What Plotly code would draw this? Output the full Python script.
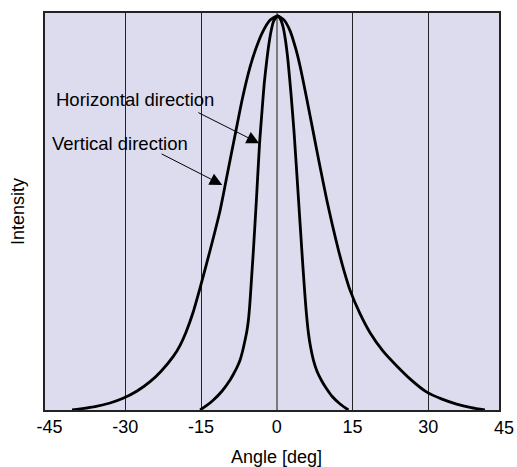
import plotly.graph_objects as go

# Data (angle in deg, normalized intensity)
horiz_angle = [-15.19, -14.00, -12.55, -10.83, -9.25, -8.46, -7.76, -7.27, -6.77, -6.28, -5.92,
               -5.62, -5.37, -5.15, -4.89, -4.63, -4.04, -3.41, -2.91, -2.48, -2.02, -1.62,
               -1.13, -0.63, 0.16, 0.75, 1.25, 1.74, 2.24, 2.83, 3.43, 4.28, 4.95, 5.41, 5.80,
               6.26, 6.69, 7.25, 7.98, 8.91, 9.76, 10.89, 12.53, 14.18]
horiz_int = [0.0, 0.0101, 0.0252, 0.0479, 0.0756, 0.0932, 0.1108, 0.1259, 0.1486, 0.1763,
             0.1990, 0.2267, 0.2620, 0.3023, 0.3526, 0.4030, 0.5290, 0.6725, 0.7557, 0.8237,
             0.8766, 0.9169, 0.9547, 0.9798, 0.9924, 0.9836, 0.9647, 0.9295, 0.8766, 0.7935,
             0.6977, 0.5340, 0.4030, 0.3174, 0.2519, 0.1940, 0.1587, 0.1259, 0.0970, 0.0730,
             0.0554, 0.0353, 0.0151, 0.0]

vert_angle = [-40.53, -35.98, -33.01, -30.44, -27.66, -25.09, -22.91, -20.53, -19.15, -17.96,
              -16.57, -15.19, -13.19, -11.21, -9.64, -8.26, -6.87, -5.29, -4.10, -2.91, -1.32,
              0.16, 1.45, 2.63, 3.82, 4.61, 5.90, 7.25, 8.57, 9.90, 10.95, 12.20, 13.33, 14.5,
              16.5, 18.5, 21.0, 23.76, 26.6, 29.7, 32.6, 35.6, 38.5, 41.2]
vert_int = [0.0, 0.0088, 0.0176, 0.0295, 0.0479, 0.0713, 0.0977, 0.1343, 0.1630, 0.1965,
            0.2463, 0.3078, 0.4030, 0.5038, 0.6045, 0.6927, 0.7809, 0.8640, 0.9118, 0.9496,
            0.9824, 0.9924, 0.982, 0.955, 0.907, 0.866, 0.786, 0.698, 0.612, 0.529, 0.469,
            0.403, 0.350, 0.302, 0.242, 0.194, 0.149, 0.111, 0.076, 0.045, 0.028, 0.015,
            0.006, 0.0]

tick_vals = [-45, -30, -15, 0, 15, 30]
extra_tick = 45
grid_vals = [-30, -15, 15, 30]
x_range = [-45.9, 44.0]
y_range = [0, 1.0]

FONT = "Arial, Liberation Sans, sans-serif"
BG = "#dcdcee"

fig = go.Figure()
for xs, ys in [(vert_angle, vert_int), (horiz_angle, horiz_int)]:
    fig.add_trace(go.Scatter(x=xs, y=ys, mode="lines",
                             line=dict(color="black", width=2.8, shape="spline", smoothing=0.6),
                             showlegend=False, hoverinfo="skip"))
# invisible trace to activate the grid overlay axis
fig.add_trace(go.Scatter(x=[0], y=[0], xaxis="x2", mode="markers",
                         marker=dict(opacity=0), showlegend=False, hoverinfo="skip"))

fig.update_layout(
    width=517, height=467,
    margin=dict(l=45, r=18, t=13, b=57),
    paper_bgcolor="white", plot_bgcolor=BG,
    font=dict(family=FONT, size=18, color="black"),
    xaxis=dict(range=x_range, tickmode="array", tickvals=tick_vals,
               ticktext=[str(v) for v in tick_vals],
               showgrid=False, zeroline=True, zerolinecolor="#7a7a7a", zerolinewidth=1.5,
               showline=True, linecolor="#222", linewidth=1.5, mirror=True,
               ticks="", tickfont=dict(size=18, family=FONT)),
    xaxis2=dict(range=x_range, overlaying="x", matches="x", tickmode="array",
                tickvals=grid_vals, showticklabels=False, showgrid=True,
                gridcolor="#222", gridwidth=1, zeroline=False, showline=False, ticks=""),
    yaxis=dict(range=y_range, showgrid=False, zeroline=False, showticklabels=False,
               ticks="", showline=True, linecolor="#222", linewidth=1.5, mirror=True),
)

def xpaper(v):
    return (v - x_range[0]) / (x_range[1] - x_range[0])

annotations = [
    dict(text=str(extra_tick), xref="paper", yref="paper", x=xpaper(extra_tick), y=0,
         xanchor="center", yanchor="top", yshift=-6, showarrow=False,
         font=dict(size=18, family=FONT)),
    dict(text="Angle [deg]", xref="paper", yref="paper", x=xpaper(0), y=0,
         xanchor="center", yanchor="middle", yshift=-47, showarrow=False,
         font=dict(size=18, family=FONT)),
    dict(text="Intensity", xref="paper", yref="paper", x=-0.0606, y=0.5,
         xanchor="center", yanchor="middle", textangle=-90, showarrow=False,
         font=dict(size=18, family=FONT)),
    dict(text="Horizontal direction", xref="x", yref="y", x=-44.2, y=0.783,
         xanchor="left", yanchor="middle", showarrow=False, font=dict(size=18.5, family=FONT)),
    dict(text="Vertical direction", xref="x", yref="y", x=-44.9, y=0.672,
         xanchor="left", yanchor="middle", showarrow=False, font=dict(size=18.5, family=FONT)),
    dict(text="", xref="x", yref="y", x=-3.5, y=0.672, axref="x", ayref="y",
         ax=-15.84, ay=0.751, showarrow=True, arrowhead=2, arrowsize=2.5, arrowwidth=1,
         arrowcolor="black"),
    dict(text="", xref="x", yref="y", x=-10.8, y=0.567, axref="x", ayref="y",
         ax=-23.1, ay=0.647, showarrow=True, arrowhead=2, arrowsize=2.5, arrowwidth=1,
         arrowcolor="black"),
]
fig.update_layout(annotations=annotations)

fig.write_html("out.html")
